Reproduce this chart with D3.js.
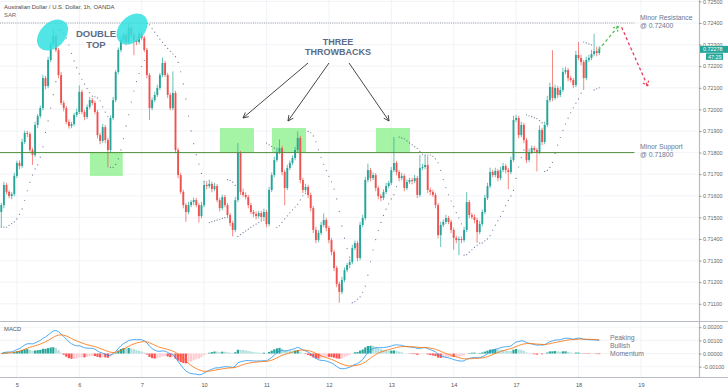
<!DOCTYPE html>
<html><head><meta charset="utf-8">
<script src="https://cdnjs.cloudflare.com/ajax/libs/d3/7.8.5/d3.min.js"></script>
<style>
html,body{margin:0;padding:0;background:#fff;overflow:hidden}
svg{display:block}
text{font-family:"Liberation Sans",Arial,sans-serif}
</style>
</head><body>
<svg id="c" width="728" height="391"></svg>
<script>
// ---------------- DATA ----------------
const title = "Australian Dollar / U.S. Dollar, 1h, OANDA";
const firstOpen = 0.71525;
const closes = [
.71557,.71650,.71618,.71599,.71608,.71692,.71752,.71738,.71849,.71891,
.71886,.71812,.71789,.71928,.71969,.72006,.72145,.72108,.72229,.72303,
.72340,.72275,.72159,.72030,.72006,.71942,.71923,.71932,.71974,.71988,
.72081,.71988,.71965,.72011,.72043,.72030,.71988,.71881,.71854,.71918,
.71858,.71812,.71960,.72043,.72173,.72275,.72321,.72344,.72312,.72377,
.72344,.72321,.72312,.72349,.72331,.72275,.72159,.72006,.72043,.72067,
.72099,.72159,.72215,.72159,.72067,.72006,.72076,.71812,.71696,.71618,
.71557,.71525,.71557,.71571,.71580,.71557,.71506,.71557,.71650,.71645,
.71655,.71631,.71645,.71580,.71543,.71594,.71557,.71511,.71474,.71442,
.71580,.71798,.71618,.71604,.71594,.71557,.71525,.71516,.71506,.71520,
.71502,.71525,.71469,.71627,.71696,.71766,.71803,.71821,.71710,.71636,
.71729,.71752,.71775,.71812,.71868,.71673,.71627,.71641,.71604,.71543,
.71442,.71395,.71428,.71465,.71488,.71451,.71395,.71340,.71266,.71192,
.71155,.71210,.71256,.71280,.71293,.71358,.71381,.71312,.71465,.71497,
.71673,.71719,.71682,.71696,.71636,.71599,.71590,.71618,.71645,.71659,
.71719,.71752,.71710,.71682,.71692,.71636,.71664,.71673,.71668,.71682,
.71604,.71729,.71733,.71743,.71627,.71618,.71604,.71557,.71418,.71465,
.71479,.71497,.71479,.71442,.71405,.71395,.71400,.71395,.71442,.71571,
.71511,.71502,.71488,.71432,.71469,.71525,.71590,.71645,.71710,.71696,
.71715,.71682,.71719,.71738,.71719,.71710,.71766,.71951,.71960,.71881,
.71928,.71858,.71766,.71803,.71821,.71812,.71803,.71905,.71849,.71928,
.72043,.72104,.72053,.72099,.72067,.72090,.72173,.72182,.72145,.72136,
.72113,.72252,.72238,.72219,.72145,.72229,.72238,.72256,.72270,.72261,
.72278];
// wick lengths beyond the body, in pips
const wickUp = [
1,1.5,1,0.8,1,1.5,1,1.2,1.5,1,
1,1,1,1.5,1,1.2,1.5,1,1.5,1.2,
3,1,1,1.5,1,1,1.2,1,1,1.5,
3,1,1,1.2,1.5,1,1,1,1,1.5,
1,1,1.2,1.5,1,1.2,1.5,1,1,2,
1,1.2,1,1.5,1,1,1,1,1.2,1.5,
1.5,1,2.5,1,1,1,10,1,1,1,
1,1,1.5,1,1.2,1,1,1.5,1.5,1.2,
2,1,1.5,1,1,1.2,1,1,1,1,
1.5,4.6,1,1.5,1.2,1,1,1,1.2,1,
1,1.5,1,1.5,1.2,1.5,2,4,1,1,
1.5,1.2,1.2,1.5,3,1,1,1.5,1,1,
1,1.5,1.2,1.5,3,1,1,1,1,1,
1,1.5,1.2,1,1.5,1.5,1.2,1,1.5,1.5,
1.5,3,1,1.2,1,1,1,1.2,1.5,1,
1.5,12,1,1,1.5,1,1.2,1,1,1.5,
1,6,1.5,4.6,4,1,1,1,1,1.5,
1.2,1.5,1,1,1,1,1.2,1,1.5,4.6,
1,1,1.2,1,1.5,1.2,1.5,1.5,2,1,
1.5,1,1.5,1.5,1,1,1.5,2,1.5,1,
1.5,1,1,1.5,1.2,1,1,2,1,1.5,
2,2,17,1.5,1,1.5,2,1.5,1,1,
1,2,6,1.5,1,1.5,1.5,2,8,2,
1.5];
const wickDn = [
7,1.5,1,1,1.5,1,1,1.5,1,1,
1.5,1,4.6,1,1.5,1,1,1.5,1,1,
1,1,1.5,1,1.5,1,1.2,1,1,1,
1,1,1.5,1,1,1,1,1.5,1.5,1,
1.5,8,1,1,1,1,1,1,1.5,1,
1,7,1.5,1,1,1,1.5,5.5,1,1,
1,1,1,1,1.5,1,1,1.5,1.5,1,
1.5,4.6,1,1,1.5,1,3,1,1,1.5,
1,1.5,1,1,1.5,1,1,1.5,1.5,3,
1,1,1.5,1,1,1.5,1,1.5,1.5,1,
1.5,1,1.5,1,1,1,1,1,1.5,8,
1,1,1,1,1,1.5,1.5,1,1.5,1.5,
1.5,1.5,1,1,1,1.5,1.5,1.5,1.5,1.5,
5,1,1,1,1.5,1,1,1.5,1,1,
1,1,1.5,1,1.5,1.5,1.5,1,1,1,
1,1,1.5,1.5,1,1.5,1,1,1.5,1,
1.5,1,1,1,1.5,1.5,1,1.5,1.5,5.5,
1,1,1,1.5,5.5,1.5,7,1.5,1,1,
1.5,1,1.5,5,1,1,1,1,1,1,
1,1.5,1,1,1.5,8,1,1,1,1.5,
1,1.5,1.5,1,1,1,9,1,1.5,1,
1,1,1.5,1,1.5,1,1,1,1.5,1,
1.5,1,1,1.5,5.5,1,1,1,1,1.5,
1];
const dayLabels = ["5","6","7","10","11","12","13","14","17","18","19"];
const dayStartIndex = [6,30,54,78,102,126,150,174,198,222,246];
const priceTicks = [0.725,0.724,0.723,0.722,0.721,0.720,0.719,0.718,0.717,0.716,0.715,0.714,0.713,0.712,0.711];
const macdTicks = [0.002,0.001,0,-0.001];
const resistance = 0.724, support = 0.718;
const lastPrice = 0.72278, countdown = "47:29";
const greenBoxes = [[34.1,46.7,0.71692,0.71803],[84.1,97.2,0.71803,0.71914],[104.1,117.2,0.71803,0.71914],[144.1,157.2,0.71803,0.71914]];
const topEllipses = [[19.7,0.72344],[50.3,0.72372]];
const bullPath = [[229.7,0.72275],[237.3,0.72385]];
const bearPath = [[238.6,0.72380],[248.6,0.72108]];

// ---------------- SETUP ----------------
const svg = d3.select("#c");
const W = 728, plotR = 699, mainB = 321, macdT = 322, macdB = 377;
const x = d3.scaleLinear().domain([-0.5, 268.35]).range([0, plotR]);
const y = d3.scaleLinear().domain([0.711, 0.724]).range([303.8, 23]);
const ym = d3.scaleLinear().domain([-0.001, 0.002]).range([366.7, 327.2]);
const N = closes.length;
const opens = closes.map((c,i)=> i===0 ? firstOpen : closes[i-1]);
const highs = closes.map((c,i)=> Math.max(opens[i],c) + wickUp[i]*1e-4);
const lows = closes.map((c,i)=> Math.min(opens[i],c) - wickDn[i]*1e-4);

// Parabolic SAR (0.02, 0.02, 0.2)
function psar(h,l){
  const out=[]; let up=true, af=0.02, ep=h[0], s=l[0]; out.push(s);
  for(let i=1;i<h.length;i++){
    s = s + af*(ep-s);
    if(up){
      s = Math.min(s, l[i-1], i>1?l[i-2]:l[i-1]);
      if(l[i]<s){up=false; s=ep; ep=l[i]; af=0.02;}
      else if(h[i]>ep){ep=h[i]; af=Math.min(af+0.02,0.2);}
    } else {
      s = Math.max(s, h[i-1], i>1?h[i-2]:h[i-1]);
      if(h[i]>s){up=true; s=ep; ep=h[i]; af=0.02;}
      else if(l[i]<ep){ep=l[i]; af=Math.min(af+0.02,0.2);}
    }
    out.push(s);
  }
  return out;
}
const sar = psar(highs, lows);
function ema(a,n){const k=2/(n+1); let e=a[0]; return a.map((v,i)=> i===0?e:(e=v*k+e*(1-k)));}
const e12=ema(closes,12), e26=ema(closes,26);
const macd = closes.map((c,i)=>e12[i]-e26[i]);
const signal = ema(macd,9);
const hist = macd.map((m,i)=>m-signal[i]);

// ---------------- GRID ----------------
const grid = svg.append("g");
priceTicks.forEach(p=>grid.append("line").attr("x1",0).attr("x2",plotR).attr("y1",y(p)).attr("y2",y(p)).attr("stroke","#eef0f5").attr("stroke-width",0.8));
macdTicks.forEach(p=>grid.append("line").attr("x1",0).attr("x2",plotR).attr("y1",ym(p)).attr("y2",ym(p)).attr("stroke","#eef0f5").attr("stroke-width",0.8));
dayStartIndex.forEach(i=>{
  grid.append("line").attr("x1",x(i)).attr("x2",x(i)).attr("y1",0).attr("y2",mainB).attr("stroke","#eef0f5").attr("stroke-width",0.8);
  grid.append("line").attr("x1",x(i)).attr("x2",x(i)).attr("y1",macdT).attr("y2",macdB).attr("stroke","#eef0f5").attr("stroke-width",0.8);
});

// clip
svg.append("clipPath").attr("id","cm").append("rect").attr("x",0).attr("y",0).attr("width",plotR).attr("height",mainB);
svg.append("clipPath").attr("id","cd").append("rect").attr("x",0).attr("y",macdT).attr("width",plotR).attr("height",macdB-macdT);
const main = svg.append("g").attr("clip-path","url(#cm)");

// green boxes
greenBoxes.forEach(b=>main.append("rect").attr("x",x(b[0])).attr("width",x(b[1])-x(b[0]))
  .attr("y",y(b[3])).attr("height",y(b[2])-y(b[3])).attr("fill","#8ef08e").attr("opacity",0.8));

// resistance dotted line
main.append("line").attr("x1",0).attr("x2",x(243.5)).attr("y1",y(resistance)).attr("y2",y(resistance))
  .attr("stroke","#9aa0a8").attr("stroke-width",1).attr("stroke-dasharray","1,1.2");

// SAR dots
main.append("g").selectAll("circle").data(sar).join("circle")
  .attr("cx",(d,i)=>x(i)).attr("cy",d=>y(d)).attr("r",0.6).attr("fill","#3b4a72").attr("opacity",0.75);

// candles
const cg = main.append("g");
closes.forEach((c,i)=>{
  const up = c>=opens[i], col = up?"#26a69a":"#ef5350";
  cg.append("line").attr("x1",x(i)).attr("x2",x(i)).attr("y1",y(highs[i])).attr("y2",y(lows[i])).attr("stroke",col).attr("stroke-width",0.7);
  const t=y(Math.max(opens[i],c)), b=y(Math.min(opens[i],c));
  cg.append("rect").attr("x",x(i)-0.95).attr("width",1.9).attr("y",t).attr("height",Math.max(0.6,b-t)).attr("fill",col);
});

// support line
main.append("line").attr("x1",0).attr("x2",x(243.5)).attr("y1",y(support)).attr("y2",y(support))
  .attr("stroke","#4e8f3a").attr("stroke-width",1);

// ellipses
topEllipses.forEach(e=>main.append("ellipse").attr("transform",`translate(${x(e[0])},${y(e[1])}) rotate(-45)`)
  .attr("rx",18).attr("ry",12.5).attr("fill","#33e0e0").attr("opacity",0.85));

// projections
function dashed(p,col){
  main.append("line").attr("x1",x(p[0][0])).attr("y1",y(p[0][1])).attr("x2",x(p[1][0])).attr("y2",y(p[1][1]))
   .attr("stroke",col).attr("stroke-width",1.3).attr("stroke-dasharray","3,2.5");
  const x2=x(p[1][0]), y2=y(p[1][1]), a=Math.atan2(y2-y(p[0][1]), x2-x(p[0][0]));
  [a+Math.PI*0.82, a-Math.PI*0.82].forEach(b=>main.append("line").attr("x1",x2).attr("y1",y2)
    .attr("x2",x2+6*Math.cos(b)).attr("y2",y2+6*Math.sin(b)).attr("stroke",col).attr("stroke-width",1.3).attr("stroke-dasharray","2,1.5"));
}
dashed(bullPath,"#5cbf5c");
dashed(bearPath,"#e83d5a");

// annotation arrows
function arrow(x1,y1,x2,y2){
  main.append("line").attr("x1",x1).attr("y1",y1).attr("x2",x2).attr("y2",y2).attr("stroke","#333").attr("stroke-width",0.9);
  const a=Math.atan2(y2-y1,x2-x1);
  [a+Math.PI*0.85,a-Math.PI*0.85].forEach(b=>main.append("line").attr("x1",x2).attr("y1",y2)
    .attr("x2",x2+6*Math.cos(b)).attr("y2",y2+6*Math.sin(b)).attr("stroke","#333").attr("stroke-width",0.9));
}
arrow(308,63,243,118);
arrow(329,63,288,121);
arrow(349,63,389,121);

// annotation texts
const ann = svg.append("g").attr("fill","#5c6b86").attr("font-family","'Open Sans',sans-serif").attr("font-weight",600);
ann.append("text").attr("x",96).attr("y",37).attr("text-anchor","middle").attr("font-size",9.5).text("DOUBLE");
ann.append("text").attr("x",96).attr("y",48).attr("text-anchor","middle").attr("font-size",9.5).text("TOP");
ann.append("text").attr("x",338).attr("y",45).attr("text-anchor","middle").attr("font-size",9).text("THREE");
ann.append("text").attr("x",338).attr("y",55).attr("text-anchor","middle").attr("font-size",9).text("THROWBACKS");
const ann2 = svg.append("g").attr("fill","#6b7790").attr("font-size",6.8);
ann2.append("text").attr("x",640).attr("y",20).text("Minor Resistance");
ann2.append("text").attr("x",640).attr("y",28).text("@ 0.72400");
ann2.append("text").attr("x",640).attr("y",149).text("Minor Support");
ann2.append("text").attr("x",640).attr("y",157).text("@ 0.71800");
ann2.append("text").attr("x",610).attr("y",340).text("Peaking");
ann2.append("text").attr("x",610).attr("y",348).text("Bullish");
ann2.append("text").attr("x",610).attr("y",356).text("Momentum");

// title
svg.append("text").attr("x",4).attr("y",9).attr("font-size",5.9).attr("fill","#4a4a4a").text(title);
svg.append("text").attr("x",4).attr("y",17).attr("font-size",5.9).attr("fill","#6a6a6a").text("SAR");

// ---------------- MACD ----------------
const md = svg.append("g").attr("clip-path","url(#cd)");
md.selectAll("rect").data(hist).join("rect")
  .attr("x",(d,i)=>x(i)-1.1).attr("width",2.2)
  .attr("y",d=>Math.min(ym(0),ym(d))).attr("height",d=>Math.abs(ym(d)-ym(0)))
  .attr("fill",(d,i)=>{const p=i?hist[i-1]:0; return d>=0?(d>=p?"#26a69a":"#b2dfdb"):(d<p?"#ff5252":"#ffcdd2");});
md.append("path").datum(macd).attr("fill","none").attr("stroke","#2196f3").attr("stroke-width",0.8)
  .attr("d",d3.line().x((d,i)=>x(i)).y(d=>ym(d)));
md.append("path").datum(signal).attr("fill","none").attr("stroke","#ff6d00").attr("stroke-width",0.8)
  .attr("d",d3.line().x((d,i)=>x(i)).y(d=>ym(d)));
svg.append("text").attr("x",4).attr("y",331).attr("font-size",5.9).attr("fill","#555").text("MACD");

// ---------------- FRAMES & AXES ----------------
svg.append("line").attr("x1",0).attr("x2",W).attr("y1",321.5).attr("y2",321.5).attr("stroke","#b8bcc4").attr("stroke-width",1.2);
svg.append("line").attr("x1",0).attr("x2",W).attr("y1",377.5).attr("y2",377.5).attr("stroke","#b8bcc4").attr("stroke-width",1.2);
svg.append("line").attr("x1",plotR+0.5).attr("x2",plotR+0.5).attr("y1",0).attr("y2",377.5).attr("stroke","#b8bcc4").attr("stroke-width",1.2);

const ra = svg.append("g").attr("transform",`translate(${plotR},0)`);
ra.call(d3.axisRight(y).tickValues(priceTicks).tickSize(2.5).tickPadding(1.5).tickFormat(d3.format(".5f")));
const rm = svg.append("g").attr("transform",`translate(${plotR},0)`);
rm.call(d3.axisRight(ym).tickValues(macdTicks).tickSize(2.5).tickPadding(1.5).tickFormat(d=>d3.format(".5f")(d).replace("−","-")));
[ra,rm].forEach(g=>{g.select(".domain").remove(); g.selectAll("line").attr("stroke","#999");
  g.selectAll("text").attr("font-size",5.4).attr("fill","#666").attr("font-family","'Liberation Sans',Arial,sans-serif");});

const ba = svg.append("g").attr("transform",`translate(0,${macdB})`);
ba.call(d3.axisBottom(x).tickValues(dayStartIndex).tickSize(0).tickPadding(6).tickFormat((d,i)=>dayLabels[i]));
ba.select(".domain").remove();
ba.selectAll("text").attr("font-size",5.6).attr("fill","#555").attr("font-family","'Liberation Sans',Arial,sans-serif");

// last price tag
svg.append("rect").attr("x",plotR+1).attr("y",y(lastPrice)-3.5).attr("width",W-plotR-1).attr("height",7).attr("fill","#26a69a");
svg.append("text").attr("x",plotR+4).attr("y",y(lastPrice)+2).attr("font-size",5.4).attr("fill","#fff").text(d3.format(".5f")(lastPrice));
svg.append("rect").attr("x",plotR+7).attr("y",y(lastPrice)+4).attr("width",17).attr("height",6.5).attr("fill","#26a69a");
svg.append("text").attr("x",plotR+9).attr("y",y(lastPrice)+9.3).attr("font-size",5.4).attr("fill","#fff").text(countdown);
</script>
</body></html>
